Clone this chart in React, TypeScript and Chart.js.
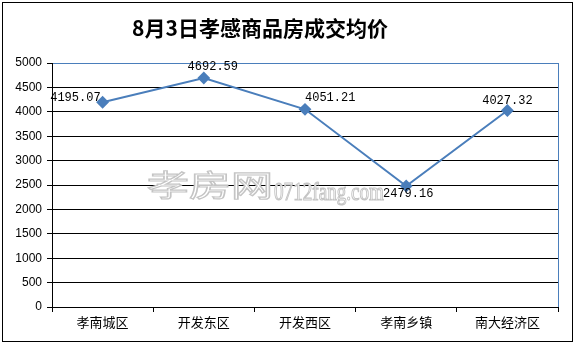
import React, { useEffect, useRef } from "react";
import { Chart, registerables } from "chart.js";

Chart.register(...registerables);

const chartTitle = "8月3日孝感商品房成交均价";
const categories = ["孝南城区", "开发东区", "开发西区", "孝南乡镇", "南大经济区"];
const avgPrices = [4195.07, 4692.59, 4051.21, 2479.16, 4027.32];
const yMin = 0;
const yMax = 5000;
const yStep = 500;
const watermarkCn = "孝房网";
const watermarkUrl = "0712fang.com";

const LINE_BLUE = "#4A7EBB";

export default function App() {
  const ref = useRef<HTMLCanvasElement | null>(null);

  useEffect(() => {
    document.body.style.margin = "0";
    const canvas = ref.current;
    if (!canvas) return;

    const decorPlugin = {
      id: "decor",
      beforeDatasetsDraw(chart: any) {
        const { ctx, chartArea } = chart;
        ctx.save();
        // right plot border (blue)
        ctx.strokeStyle = LINE_BLUE;
        ctx.lineWidth = 1;
        ctx.beginPath();
        const rx = Math.round(chartArea.right) + 0.5;
        ctx.moveTo(rx, chartArea.top);
        ctx.lineTo(rx, chartArea.bottom);
        ctx.stroke();

        // watermark
        ctx.textBaseline = "middle";
        ctx.textAlign = "left";
        ctx.font = '30px "Noto Sans CJK SC"';
        const w1 = ctx.measureText(watermarkCn).width;
        ctx.save();
        ctx.translate(147, 185);
        ctx.scale(126 / w1, 1);
        ctx.fillStyle = "#ffffff";
        ctx.fillText(watermarkCn, 0, 0);
        ctx.strokeStyle = "#c4c4c4";
        ctx.lineWidth = 1.2;
        ctx.strokeText(watermarkCn, 0, 0);
        ctx.restore();

        ctx.textBaseline = "alphabetic";
        ctx.font = '26px "Liberation Serif"';
        const w2 = ctx.measureText(watermarkUrl).width;
        ctx.save();
        ctx.translate(274, 200);
        ctx.scale(110 / w2, 1);
        ctx.fillStyle = "#ffffff";
        ctx.fillText(watermarkUrl, 0, 0);
        ctx.strokeStyle = "#c4c4c4";
        ctx.lineWidth = 1.2;
        ctx.strokeText(watermarkUrl, 0, 0);
        ctx.restore();
        ctx.restore();
      },
      afterDatasetsDraw(chart: any) {
        const { ctx } = chart;
        const meta = chart.getDatasetMeta(0);
        const place = [
          { align: "right", dx: -2, dy: -4 },
          { align: "center", dx: 9, dy: -11 },
          { align: "left", dx: 0, dy: -11 },
          { align: "center", dx: 2, dy: 8 },
          { align: "center", dx: 0, dy: -10 },
        ];
        ctx.save();
        ctx.font = '12px "Liberation Mono"';
        ctx.fillStyle = "#000";
        ctx.textBaseline = "middle";
        meta.data.forEach((pt: any, i: number) => {
          const p = place[i];
          ctx.textAlign = p.align as CanvasTextAlign;
          ctx.fillText(avgPrices[i].toFixed(2), pt.x + p.dx, pt.y + p.dy);
        });
        ctx.restore();
      },
      afterDraw(chart: any) {
        const { ctx } = chart;
        ctx.save();
        // title
        ctx.font = 'bold 21px "Noto Sans CJK SC"';
        ctx.fillStyle = "#000";
        ctx.textAlign = "center";
        ctx.textBaseline = "middle";
        ctx.fillText(chartTitle, 260, 28);
        // outer frame
        ctx.strokeStyle = "#000";
        ctx.lineWidth = 1;
        ctx.strokeRect(2.5, 2.5, 570, 339);
        ctx.restore();
      },
    };

    const chart = new Chart(canvas, {
      type: "line",
      data: {
        labels: categories,
        datasets: [
          {
            data: avgPrices,
            borderColor: LINE_BLUE,
            backgroundColor: LINE_BLUE,
            borderWidth: 2,
            pointStyle: "rectRot",
            pointRadius: 5,
            pointBackgroundColor: LINE_BLUE,
            pointBorderColor: LINE_BLUE,
            tension: 0,
            fill: false,
          },
        ],
      },
      options: {
        responsive: false,
        animation: false,
        devicePixelRatio: 1,
        layout: { padding: { top: 63, right: 17, left: 0, bottom: 0 } },
        plugins: {
          legend: { display: false },
          title: { display: false },
          tooltip: { enabled: false },
        },
        scales: {
          x: {
            offset: true,
            grid: {
              display: true,
              drawOnChartArea: false,
              drawTicks: true,
              tickLength: 5,
              color: "#000",
              offset: true,
            },
            border: { display: true, color: "#000", width: 1 },
            ticks: {
              color: "#000",
              font: { family: '"Noto Sans CJK SC"', size: 13 },
              padding: 2,
              maxRotation: 0,
              autoSkip: false,
            },
            afterFit(scale: any) {
              scale.height = 37;
            },
          },
          y: {
            min: yMin,
            max: yMax,
            grid: {
              color: (c: any) => (c.tick && c.tick.value === yMax ? LINE_BLUE : "#000"),
              tickColor: "#000",
              tickLength: 5,
              lineWidth: 1,
            },
            border: { display: true, color: "#000", width: 1 },
            ticks: {
              stepSize: yStep,
              color: "#000",
              font: { family: '"Liberation Sans"', size: 12 },
              padding: 5,
              callback: (v: any) => String(v),
            },
            afterFit(scale: any) {
              scale.width = 52;
            },
          },
        },
      },
      plugins: [decorPlugin],
    });

    return () => chart.destroy();
  }, []);

  return (
    <div style={{ width: 575, height: 344 }}>
      <canvas ref={ref} width={575} height={344} style={{ display: "block" }} />
    </div>
  );
}
